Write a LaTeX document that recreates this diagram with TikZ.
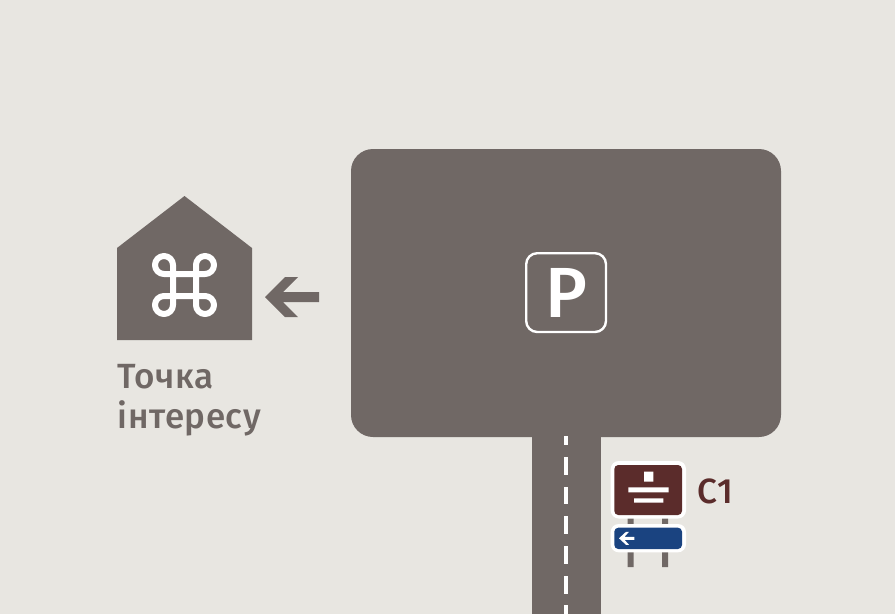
\documentclass[tikz,border=0pt]{standalone}
\usepackage{fontspec}
\setmainfont{Fira Sans Medium}
\newfontfamily\poifont[LetterSpace=1.5]{Fira Sans Medium}
\newfontfamily\codefont[LetterSpace=8]{Fira Sans Medium}
\definecolor{bgc}{HTML}{E8E6E1}
\definecolor{grayc}{HTML}{706865}
\definecolor{brownc}{HTML}{5B2C2B}
\definecolor{bluec}{HTML}{1A4380}
\tikzset{
  ink/.style={fill=grayc,draw=none},
  mark white/.style={fill=white,draw=none},
  loopline/.style={draw=white,line width=6pt,line join=round},
  label text/.style={inner sep=0pt,anchor=base west},
}
\begin{document}
\begin{tikzpicture}[x=1pt,y=-1pt]
\useasboundingbox (0,0) rectangle (895,614);
\fill[bgc] (0,0) rectangle (895,614);
% parking and road
\fill[ink,rounded corners=22pt] (351,149) rectangle (781,437);
\fill[ink] (532,430) rectangle (601,614);
\foreach \a/\b in {436/445,457/475,487/504,516/534,546/564,576/594,605/614}
  \fill[mark white] (564,\a) rectangle (568.3,\b);
% P sign
\draw[white,line width=2.4pt,rounded corners=11pt] (526.2,253.2) rectangle (606,332);
\node[inner sep=0pt,text=white,anchor=base,font=\fontsize{71}{71}\selectfont] (p) at (566.5,317) {P};
% house
\fill[ink] (117,248) -- (184.5,196) -- (252,248) -- (252,340) -- (117,340) -- cycle;
\draw[loopline] (173,305) -- (173,265) arc[start angle=0,end angle=-270,radius=9]
  -- (205,274) arc[start angle=90,end angle=-180,radius=9]
  -- (196,305) arc[start angle=180,end angle=-90,radius=9]
  -- (164,296) arc[start angle=-90,end angle=-360,radius=9] -- cycle;
% arrow
\fill[ink] (265,297) -- (285,277) -- (298,277) -- (283,292) -- (319,292) -- (319,302) -- (283,302) -- (298,317) -- (285,317) -- cycle;
% label
\node[label text,text=grayc,font=\poifont\fontsize{35}{40}\selectfont] (poi1) at (117.5,388.3) {Точка};
\node[label text,text=grayc,font=\poifont\fontsize{35}{40}\selectfont] (poi2) at (117.5,428.3) {інтересу};
% sign posts
\fill[ink] (627.7,518) rectangle (633.7,524) (662,518) rectangle (668,524)
  (627.7,552) rectangle (633.7,567) (662,552) rectangle (668,567);
% brown sign
\fill[white,rounded corners=8pt] (610.7,461) rectangle (686,518.5);
\fill[brownc,rounded corners=4pt] (614.3,465) rectangle (682,515);
\fill[mark white] (644,471.7) rectangle (653.3,481.7)
  (628.3,487.3) rectangle (668.7,492.3)
  (634,498.3) rectangle (663.3,502.7);
% blue sign
\fill[white,rounded corners=8pt] (610.7,524) rectangle (686,552.3);
\fill[bluec,rounded corners=4pt] (614.3,527.7) rectangle (682,549);
\fill[mark white] (619,538.3) -- (626,531.8) -- (629,531.8) -- (624.5,536.8) -- (634.3,536.8) -- (634.3,539.8) -- (624.5,539.8) -- (629,544.8) -- (626,544.8) -- cycle;
\node[label text,text=brownc,font=\codefont\fontsize{35}{40}\selectfont] (c1) at (697,503) {C1};
\end{tikzpicture}
\end{document}
